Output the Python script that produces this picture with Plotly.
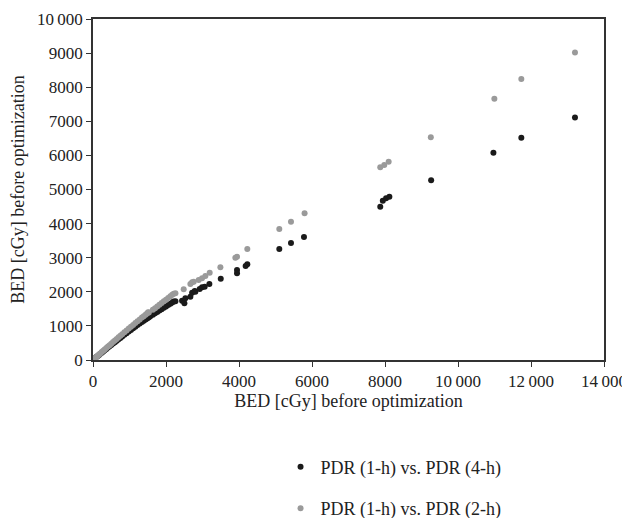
import plotly.graph_objects as go

# PDR (1-h) vs. PDR (4-h)
x_4h = [0, 20, 45, 70, 100, 130, 165, 200, 240, 280, 320, 365, 410, 455, 500, 550, 600, 650,
        700, 750, 800, 860, 920, 980, 1040, 1100, 1160, 1220, 1280, 1340, 1390, 1440, 1480,
        1510, 1540, 1570, 1640, 1700, 1760, 1820, 1880, 1940, 2000, 2060, 2120, 2170, 2211,
        2258, 2440, 2504, 2530, 2668, 2715, 2787, 2805, 2923, 2988, 3060, 3188, 3500, 3946,
        3946, 4182, 4228, 5104, 5424, 5780, 7870, 7940, 8030, 8120, 9264, 10970, 11735, 13205]
y_4h = [0, 19, 42, 65, 92, 119, 150, 181, 216, 251, 286, 325, 363, 401, 439, 481, 523, 565,
        606, 647, 688, 737, 786, 834, 882, 930, 977, 1024, 1070, 1115, 1152, 1190, 1220,
        1240, 1262, 1284, 1330, 1370, 1410, 1450, 1490, 1530, 1570, 1610, 1650, 1685, 1712,
        1720, 1740, 1662, 1809, 1857, 1974, 2023, 2003, 2082, 2132, 2150, 2229, 2385, 2542,
        2640, 2757, 2806, 3255, 3431, 3607, 4495, 4670, 4740, 4790, 5270, 6080, 6520, 7110]

# PDR (1-h) vs. PDR (2-h)
x_2h = [0, 20, 45, 70, 100, 130, 165, 200, 240, 280, 320, 365, 410, 455, 500, 550, 600, 650,
        700, 750, 800, 860, 920, 980, 1040, 1100, 1160, 1220, 1280, 1340, 1390, 1440, 1480,
        1510, 1530, 1640, 1700, 1760, 1820, 1880, 1940, 2000, 2060, 2120, 2170, 2211, 2258,
        2485, 2668, 2715, 2760, 2896, 2988, 3079, 3197, 3490, 3900, 3946, 4228, 5104, 5424,
        5797, 7870, 7980, 8100, 9255, 10996, 11735, 13205]
y_2h = [0, 20, 44, 68, 97, 126, 160, 193, 232, 270, 308, 351, 394, 436, 479, 526, 573, 619,
        666, 712, 758, 813, 868, 922, 976, 1030, 1084, 1138, 1191, 1243, 1286, 1330, 1365,
        1400, 1395, 1470, 1520, 1570, 1620, 1670, 1720, 1770, 1820, 1870, 1910, 1945, 1960,
        2073, 2229, 2280, 2296, 2346, 2396, 2463, 2560, 2718, 3000, 3030, 3255, 3841, 4056,
        4300, 5650, 5720, 5815, 6530, 7663, 8240, 9020]

x_ticks = [0, 2000, 4000, 6000, 8000, 10000, 12000, 14000]
x_ticktext = ["0", "2000", "4000", "6000", "8000", "10\u2009000", "12\u2009000", "14\u2009000"]
y_ticks = [0, 1000, 2000, 3000, 4000, 5000, 6000, 7000, 8000, 9000, 10000]
y_ticktext = ["0", "1000", "2000", "3000", "4000", "5000", "6000", "7000", "8000", "9000",
              "10\u2009000"]

FONT = "Liberation Serif"

fig = go.Figure()
fig.add_trace(go.Scatter(x=x_4h, y=y_4h, mode="markers", name="PDR (1-h) vs. PDR (4-h)",
                         legendgroup="a",
                         marker=dict(color="#1a1a1a", size=6, line=dict(width=0))))
fig.add_trace(go.Scatter(x=x_2h, y=y_2h, mode="markers", name="PDR (1-h) vs. PDR (2-h)",
                         legendgroup="b",
                         marker=dict(color="#9a9a9a", size=6, line=dict(width=0))))

axis_common = dict(showgrid=False, zeroline=False, showline=True, linecolor="#333333",
                   linewidth=1.5, mirror=True, ticks="outside", ticklen=5, tickwidth=1.2,
                   tickcolor="#333333", ticklabeloverflow="allow",
                   tickfont=dict(family=FONT, size=17, color="#222222"))

fig.update_layout(
    width=622, height=510,
    paper_bgcolor="white", plot_bgcolor="white",
    margin=dict(l=84.5, r=26, t=11, b=158, autoexpand=False),
    font=dict(family=FONT, color="#222222"),
    xaxis=dict(range=[0, 14000], tickvals=x_ticks, ticktext=x_ticktext,
               title=dict(text="BED [cGy] before optimization", font=dict(family=FONT, size=18),
                          standoff=0),
               **axis_common),
    yaxis=dict(range=[0, 10000], tickvals=y_ticks, ticktext=y_ticktext,
               title=dict(text="BED [cGy] before optimization", font=dict(family=FONT, size=18),
                          standoff=12),
               **axis_common),
    legend=dict(x=0.367, y=-0.26, xanchor="left", yanchor="top",
                font=dict(family=FONT, size=18, color="#222222"),
                tracegroupgap=15, bgcolor="rgba(0,0,0,0)"),
    showlegend=True,
)

fig.write_html("out.html")
